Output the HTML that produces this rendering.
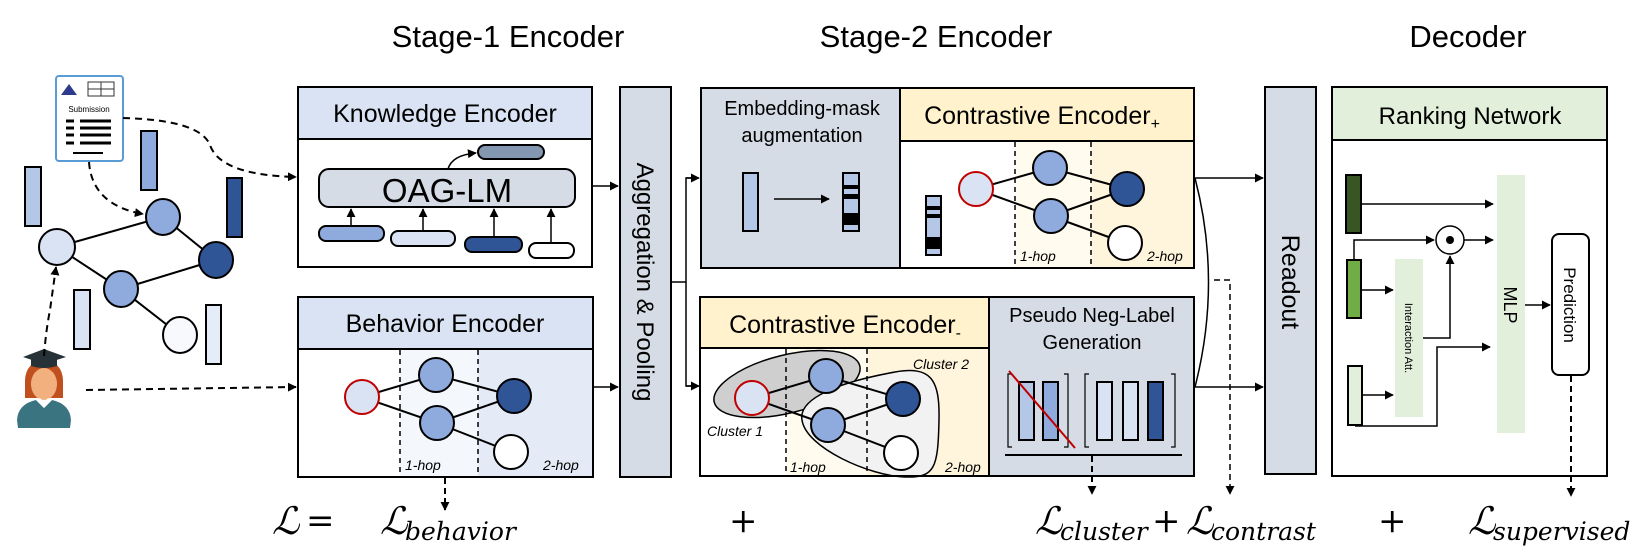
<!DOCTYPE html>
<html><head><meta charset="utf-8"><style>
body{margin:0;background:#fff}
svg{display:block}
text{font-family:"Liberation Sans",sans-serif}
.m text{font-family:"DejaVu Serif","Liberation Serif",serif}
</style></head><body>
<svg width="1644" height="555" viewBox="0 0 1644 555" xmlns="http://www.w3.org/2000/svg">
<defs>
<marker id="a" viewBox="0 0 10 10" refX="9" refY="5" markerWidth="9" markerHeight="9" markerUnits="userSpaceOnUse" orient="auto"><path d="M0,0L10,5L0,10z" fill="#000"/></marker>
</defs>
<g font-size="31" text-anchor="middle">
<text x="508" y="47">Stage-1 Encoder</text>
<text x="936" y="47">Stage-2 Encoder</text>
<text x="1468" y="47">Decoder</text>
</g>

<!-- left graph -->
<g stroke="#000" stroke-width="2">
<rect x="25" y="167" width="16" height="59" fill="#b4c7e7"/>
<rect x="141" y="131" width="16" height="59" fill="#8faadc"/>
<rect x="227" y="178" width="15" height="59" fill="#2f5597"/>
<rect x="74" y="290" width="16" height="59" fill="#dae3f3"/>
<rect x="206" y="305" width="15" height="59" fill="#e4ecf7"/>
<line x1="57" y1="247" x2="163" y2="217"/><line x1="163" y1="217" x2="216" y2="260"/>
<line x1="57" y1="247" x2="121" y2="289"/><line x1="121" y1="289" x2="216" y2="260"/>
<line x1="121" y1="289" x2="180" y2="335"/>
<ellipse cx="57" cy="247" rx="18" ry="18" fill="#dae3f3"/>
<ellipse cx="163" cy="217" rx="17" ry="18" fill="#8faadc"/>
<ellipse cx="216" cy="260" rx="17" ry="18" fill="#2f5597"/>
<ellipse cx="121" cy="289" rx="17" ry="18" fill="#8faadc"/>
<ellipse cx="180" cy="335" rx="17" ry="18" fill="#f8f9fc"/>
</g>
<!-- submission doc -->
<rect x="56" y="76" width="67" height="85" rx="3" fill="#fff" stroke="#5b9bd5" stroke-width="2"/>
<path d="M61,95 L69,84 L77,95z" fill="#2e3a8c"/>
<rect x="88" y="82" width="26" height="14" fill="none" stroke="#333" stroke-width="1"/>
<line x1="88" y1="89" x2="114" y2="89" stroke="#333"/><line x1="101" y1="82" x2="101" y2="96" stroke="#333"/>
<text x="89" y="112" font-size="8" text-anchor="middle">Submission</text>
<g stroke="#000" stroke-width="3"><line x1="66" y1="121" x2="74" y2="121"/><line x1="80" y1="121" x2="111" y2="121"/><line x1="66" y1="128" x2="74" y2="128"/><line x1="80" y1="128" x2="111" y2="128"/><line x1="66" y1="135" x2="74" y2="135"/><line x1="80" y1="135" x2="111" y2="135"/><line x1="66" y1="143" x2="74" y2="143"/><line x1="80" y1="143" x2="111" y2="143"/><line x1="73" y1="153" x2="103" y2="153" stroke-width="2"/></g>
<!-- person -->
<path d="M25,380 Q26,362 44,360 Q62,362 63,380 L63,398 L25,398z" fill="#c0501e"/>
<ellipse cx="44" cy="384" rx="13" ry="16" fill="#f2b07e"/>
<path d="M23,357 L44,349 L66,357 L44,364z" fill="#263238"/>
<path d="M31,359 L31,366 Q44,370 57,366 L57,359z" fill="#263238"/>
<path d="M17,420 Q18,404 36,400 L44,408 L52,400 Q70,404 71,420 L70,428 L18,428z" fill="#3a7480"/>
<path d="M36,400 L44,408 L52,400 L48,398 L44,402 L40,398z" fill="#fff"/>
<!-- dashed connectors left -->
<g fill="none" stroke="#000" stroke-width="2" stroke-dasharray="7,5">
<path d="M89,162 Q92,205 143,214" marker-end="url(#a)"/>
<path d="M123,118 Q200,120 210,145 Q220,175 296,177" marker-end="url(#a)"/>
<path d="M44,356 Q46,330 50,310 L56,267" marker-end="url(#a)"/>
<path d="M86,390 L296,387" marker-end="url(#a)"/>
</g>

<!-- Knowledge encoder -->
<rect x="298" y="87" width="294" height="52" fill="#dae3f3" stroke="#000" stroke-width="2"/>
<rect x="298" y="139" width="294" height="128" fill="#fff" stroke="#000" stroke-width="2"/>
<text x="445" y="122" font-size="25" text-anchor="middle">Knowledge Encoder</text>
<rect x="319" y="169" width="256" height="38" rx="10" fill="#d6dce5" stroke="#000" stroke-width="2"/>
<text x="447" y="202" font-size="33" text-anchor="middle">OAG-LM</text>
<rect x="478" y="145" width="66" height="14" rx="7" fill="#8497b0" stroke="#000" stroke-width="2"/>
<path d="M448,169 Q452,155 476,153" fill="none" stroke="#000" stroke-width="1.5" marker-end="url(#a)"/>
<g stroke="#000" stroke-width="2">
<rect x="319" y="226" width="65" height="15" rx="7" fill="#8faadc"/>
<rect x="391" y="231" width="64" height="15" rx="7" fill="#dae3f3"/>
<rect x="465" y="237" width="57" height="15" rx="7" fill="#2f5597"/>
<rect x="529" y="243" width="45" height="15" rx="7" fill="#fff"/>
</g>
<g stroke="#000" stroke-width="1.5" marker-end="url(#a)">
<line x1="351" y1="226" x2="351" y2="209"/><line x1="423" y1="231" x2="423" y2="209"/>
<line x1="494" y1="237" x2="494" y2="209"/><line x1="551" y1="243" x2="551" y2="209"/>
</g>

<!-- Behavior encoder -->
<rect x="298" y="297" width="295" height="52" fill="#dae3f3" stroke="#000" stroke-width="2"/>
<text x="445" y="332" font-size="25" text-anchor="middle">Behavior Encoder</text>
<rect x="298" y="349" width="295" height="128" fill="#fff"/>
<rect x="400" y="349" width="78" height="128" fill="#f4f7fc"/>
<rect x="478" y="349" width="115" height="128" fill="#e4ebf6"/>
<rect x="298" y="349" width="295" height="128" fill="none" stroke="#000" stroke-width="2"/>
<g stroke="#000" stroke-width="1.5" stroke-dasharray="5,4"><line x1="400" y1="350" x2="400" y2="477"/><line x1="478" y1="350" x2="478" y2="477"/></g>
<g stroke="#000" stroke-width="2">
<line x1="362" y1="397" x2="436" y2="375"/><line x1="362" y1="397" x2="437" y2="423"/>
<line x1="436" y1="375" x2="514" y2="396"/><line x1="437" y1="423" x2="514" y2="396"/><line x1="437" y1="423" x2="511" y2="452"/>
<circle cx="362" cy="397" r="17" fill="#dae3f3" stroke="#c00000"/>
<circle cx="436" cy="375" r="17" fill="#8faadc"/>
<circle cx="437" cy="423" r="17" fill="#8faadc"/>
<circle cx="514" cy="396" r="17" fill="#2f5597"/>
<circle cx="511" cy="452" r="17" fill="#fff"/>
</g>
<g font-size="14" font-style="italic"><text x="405" y="470">1-hop</text><text x="543" y="470">2-hop</text></g>
<line x1="445" y1="478" x2="445" y2="510" stroke="#000" stroke-width="2" stroke-dasharray="6,4" marker-end="url(#a)"/>

<!-- Aggregation -->
<line x1="592" y1="186" x2="618" y2="186" stroke="#000" stroke-width="1.5" marker-end="url(#a)"/>
<line x1="593" y1="387" x2="618" y2="387" stroke="#000" stroke-width="1.5" marker-end="url(#a)"/>
<rect x="620" y="87" width="51" height="390" fill="#d6dce5" stroke="#000" stroke-width="2"/>
<text transform="translate(637,282) rotate(90)" font-size="24" text-anchor="middle">Aggregation &amp; Pooling</text>
<path d="M671,282 L686,282 L686,178 L698,178 M686,282 L686,386 L698,386" fill="none" stroke="#000" stroke-width="1.5"/>
<line x1="686" y1="178" x2="699" y2="178" stroke="#000" stroke-width="1.5" marker-end="url(#a)"/>
<line x1="686" y1="386" x2="699" y2="386" stroke="#000" stroke-width="1.5" marker-end="url(#a)"/>

<!-- Embedding mask -->
<rect x="701" y="88" width="199" height="180" fill="#d6dce5" stroke="#000" stroke-width="2"/>
<text x="802" y="115" font-size="20" text-anchor="middle">Embedding-mask</text>
<text x="802" y="142" font-size="20" text-anchor="middle">augmentation</text>
<rect x="743" y="173" width="15" height="58" fill="#b4c7e7" stroke="#000" stroke-width="2"/>
<line x1="774" y1="199" x2="829" y2="199" stroke="#000" stroke-width="1.5" marker-end="url(#a)"/>
<g stroke="#000" stroke-width="2"><rect x="843" y="173" width="16" height="58" fill="#b4c7e7"/></g>
<g fill="#000"><rect x="843" y="185" width="16" height="4"/><rect x="843" y="194" width="16" height="5"/><rect x="843" y="213" width="16" height="12"/></g>

<!-- Contrastive + -->
<rect x="900" y="88" width="294" height="53" fill="#fff2cc" stroke="#000" stroke-width="2"/>
<rect x="900" y="141" width="294" height="127" fill="#fff"/>
<rect x="1015" y="141" width="76" height="127" fill="#fffbee"/>
<rect x="1091" y="141" width="103" height="127" fill="#fff5dc"/>
<rect x="900" y="141" width="294" height="127" fill="none" stroke="#000" stroke-width="2"/>
<text x="1042" y="124" font-size="25" text-anchor="middle">Contrastive Encoder<tspan font-size="16" dy="5">+</tspan></text>
<g stroke="#000" stroke-width="1.5" stroke-dasharray="5,4"><line x1="1015" y1="142" x2="1015" y2="268"/><line x1="1091" y1="142" x2="1091" y2="268"/></g>
<rect x="926" y="196" width="15" height="59" fill="#b4c7e7" stroke="#000" stroke-width="2"/>
<g fill="#000"><rect x="926" y="206" width="15" height="4"/><rect x="926" y="214" width="15" height="4"/><rect x="926" y="237" width="15" height="12"/></g>
<g stroke="#000" stroke-width="2">
<line x1="976" y1="189" x2="1050" y2="168"/><line x1="976" y1="189" x2="1051" y2="216"/>
<line x1="1050" y1="168" x2="1127" y2="189"/><line x1="1051" y1="216" x2="1127" y2="189"/><line x1="1051" y1="216" x2="1125" y2="243"/>
<circle cx="976" cy="189" r="17" fill="#dae3f3" stroke="#c00000"/>
<circle cx="1050" cy="168" r="17" fill="#8faadc"/>
<circle cx="1051" cy="216" r="17" fill="#8faadc"/>
<circle cx="1127" cy="189" r="17" fill="#2f5597"/>
<circle cx="1125" cy="243" r="17" fill="#fff"/>
</g>
<g font-size="14" font-style="italic"><text x="1020" y="261">1-hop</text><text x="1147" y="261">2-hop</text></g>

<!-- Contrastive - -->
<rect x="700" y="297" width="289" height="51" fill="#fff2cc" stroke="#000" stroke-width="2"/>
<rect x="700" y="348" width="289" height="128" fill="#fff"/>
<rect x="786" y="348" width="81" height="128" fill="#fffbee"/>
<rect x="867" y="348" width="122" height="128" fill="#fff5dc"/>
<text x="845" y="333" font-size="25" text-anchor="middle">Contrastive Encoder<tspan font-size="16" dy="5">-</tspan></text>
<ellipse cx="787" cy="384" rx="75" ry="29" transform="rotate(-14 787 384)" fill="#d0cfd0" stroke="#000" stroke-width="1.5"/>
<path d="M802,420 C798,398 840,382 895,372 C930,366 940,378 939,420 C938,468 935,478 905,477 C870,476 806,448 802,420 Z" fill="#f2f2f2" stroke="#000" stroke-width="1.5"/>
<g stroke="#000" stroke-width="1.5" stroke-dasharray="5,4"><line x1="786" y1="349" x2="786" y2="476"/><line x1="867" y1="349" x2="867" y2="476"/></g>
<g stroke="#000" stroke-width="2">
<line x1="752" y1="398" x2="826" y2="376"/><line x1="752" y1="398" x2="828" y2="425"/>
<line x1="826" y1="376" x2="903" y2="399"/><line x1="828" y1="425" x2="903" y2="399"/><line x1="828" y1="425" x2="901" y2="453"/>
<circle cx="752" cy="398" r="17" fill="#dae3f3" stroke="#c00000"/>
<circle cx="826" cy="376" r="17" fill="#8faadc"/>
<circle cx="828" cy="425" r="17" fill="#8faadc"/>
<circle cx="903" cy="399" r="17" fill="#2f5597"/>
<circle cx="901" cy="453" r="17" fill="#fff"/>
</g>
<rect x="700" y="348" width="289" height="128" fill="none" stroke="#000" stroke-width="2"/>
<g font-size="14" font-style="italic"><text x="707" y="436">Cluster 1</text><text x="913" y="369">Cluster 2</text><text x="790" y="472">1-hop</text><text x="945" y="472">2-hop</text></g>

<!-- Pseudo -->
<rect x="989" y="297" width="205" height="179" fill="#d6dce5" stroke="#000" stroke-width="2"/>
<text x="1092" y="322" font-size="20" text-anchor="middle">Pseudo Neg-Label</text>
<text x="1092" y="349" font-size="20" text-anchor="middle">Generation</text>
<g stroke="#000" stroke-width="2">
<rect x="1019" y="382" width="15" height="58" fill="#b4c7e7"/><rect x="1043" y="382" width="15" height="58" fill="#8faadc"/>
<rect x="1097" y="382" width="15" height="58" fill="#dae3f3"/><rect x="1123" y="382" width="15" height="58" fill="#dae3f3"/><rect x="1148" y="382" width="15" height="58" fill="#2f5597"/>
</g>
<g fill="none" stroke="#000" stroke-width="1.2">
<path d="M1012,374 L1008,374 L1008,447 L1012,447"/><path d="M1064,374 L1068,374 L1068,447 L1064,447"/>
<path d="M1089,374 L1085,374 L1085,447 L1089,447"/><path d="M1171,374 L1175,374 L1175,447 L1171,447"/>
</g>
<line x1="1009" y1="371" x2="1075" y2="448" stroke="#c00000" stroke-width="2"/>
<line x1="1005" y1="455" x2="1182" y2="455" stroke="#000" stroke-width="2"/>
<line x1="1092" y1="456" x2="1092" y2="494" stroke="#000" stroke-width="2" stroke-dasharray="6,4" marker-end="url(#a)"/>

<!-- to readout -->
<line x1="1194" y1="178" x2="1263" y2="178" stroke="#000" stroke-width="1.5" marker-end="url(#a)"/>
<line x1="1194" y1="387" x2="1263" y2="387" stroke="#000" stroke-width="1.5" marker-end="url(#a)"/>
<path d="M1195,178 Q1222,282 1195,387" fill="none" stroke="#000" stroke-width="1.5"/>
<path d="M1214,280 L1230,280 L1230,494" fill="none" stroke="#000" stroke-width="1.5" stroke-dasharray="6,4" marker-end="url(#a)"/>

<!-- Readout -->
<rect x="1265" y="87" width="51" height="387" fill="#d6dce5" stroke="#000" stroke-width="2"/>
<text transform="translate(1282,282) rotate(90)" font-size="25" text-anchor="middle">Readout</text>

<!-- Ranking -->
<rect x="1332" y="87" width="275" height="53" fill="#e2efda" stroke="#000" stroke-width="2"/>
<rect x="1332" y="140" width="275" height="336" fill="#fff" stroke="#000" stroke-width="2"/>
<text x="1470" y="124" font-size="24" text-anchor="middle">Ranking Network</text>
<rect x="1395" y="259" width="28" height="158" fill="#e2efda"/>
<text transform="translate(1405,338) rotate(90)" font-size="11" text-anchor="middle">Interaction Att.</text>
<rect x="1497" y="175" width="28" height="258" fill="#e2efda"/>
<text transform="translate(1504,305) rotate(90)" font-size="18" text-anchor="middle">MLP</text>
<rect x="1552" y="234" width="37" height="141" rx="7" fill="#fff" stroke="#000" stroke-width="2"/>
<text transform="translate(1564,305) rotate(90)" font-size="17" text-anchor="middle">Prediction</text>
<g stroke="#000" stroke-width="2">
<rect x="1346" y="175" width="15" height="58" fill="#375623"/>
<rect x="1347" y="260" width="14" height="58" fill="#70ad47"/>
<rect x="1348" y="366" width="14" height="59" fill="#e2efda"/>
</g>
<circle cx="1450" cy="240" r="14" fill="#fff" stroke="#000" stroke-width="1.5"/>
<circle cx="1450" cy="240" r="4" fill="#000"/>
<g fill="none" stroke="#000" stroke-width="1.5">
<line x1="1361" y1="204" x2="1493" y2="204" marker-end="url(#a)"/>
<path d="M1354,260 L1354,240 L1434,240" marker-end="url(#a)"/>
<line x1="1464" y1="240" x2="1493" y2="240" marker-end="url(#a)"/>
<line x1="1361" y1="290" x2="1393" y2="290" marker-end="url(#a)"/>
<path d="M1423,338 L1450,338 L1450,256" marker-end="url(#a)"/>
<line x1="1362" y1="395" x2="1393" y2="395" marker-end="url(#a)"/>
<path d="M1355,426 L1437,426 L1437,347 L1490,347" marker-end="url(#a)"/>
<line x1="1525" y1="305" x2="1550" y2="305" marker-end="url(#a)"/>
</g>
<line x1="1571" y1="376" x2="1571" y2="496" stroke="#000" stroke-width="2" stroke-dasharray="6,4" marker-end="url(#a)"/>

<!-- equation -->
<g class="m" font-size="38">
<text x="272" y="534" font-style="italic">ℒ</text>
<text x="306" y="532" font-size="34">=</text>
<text x="380" y="534" font-style="italic">ℒ</text>
<text x="729" y="532" font-size="34">+</text>
<text x="1035" y="534" font-style="italic">ℒ</text>
<text x="1152" y="532" font-size="34">+</text>
<text x="1186" y="534" font-style="italic">ℒ</text>
<text x="1378" y="532" font-size="34">+</text>
<text x="1468" y="534" font-style="italic">ℒ</text>
</g>
<g class="m" font-size="25" font-style="italic">
<text x="405" y="540">behavior</text>
<text x="1060" y="540">cluster</text>
<text x="1211" y="540">contrast</text>
<text x="1493" y="540">supervised</text>
</g>
</svg>
</body></html>
